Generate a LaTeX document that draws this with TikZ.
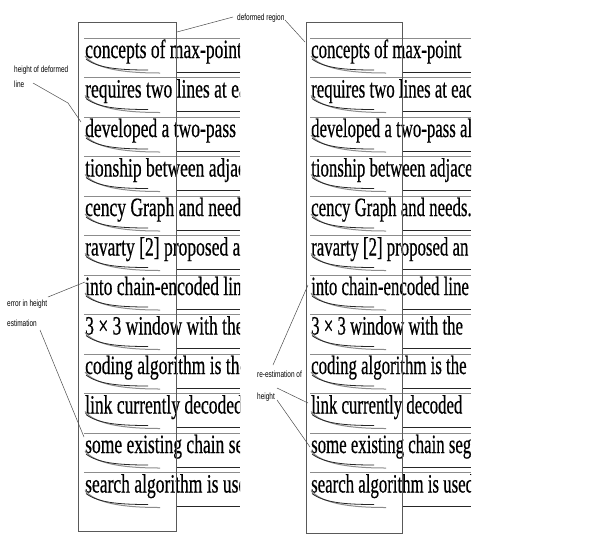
\documentclass[tikz,border=0pt]{standalone}
\usepackage{fontspec}
\setmainfont{Liberation Serif}
\newfontfamily\scanfont{Liberation Serif}[FakeBold=0.6]
\newfontfamily\lblfont{Liberation Sans}
\begin{document}
\begin{tikzpicture}[x=1pt,y=-1pt,
  txt/.style={anchor=base west,inner sep=0pt,font=\scanfont\fontsize{24}{24}\selectfont},
  lbl/.style={anchor=west,inner sep=0pt,align=left,font=\lblfont\fontsize{9}{20}\selectfont},
  region/.style={draw=black!65,line width=0.8pt,inner sep=0pt,anchor=north west},
  guide/.style={black!45,line width=0.8pt},
  dguide/.style={black!85,line width=0.9pt},
  curveA/.style={black!45,line width=1pt},
  curveB/.style={black!85,line width=0.8pt},
  leader/.style={black!70,line width=0.5pt}]
\useasboundingbox (0,0) rectangle (613,539);
\fill[white] (0,0) rectangle (613,539);

% text panels
\foreach \p/\o/\rr/\cr/\sx in {L/0/176/240/0.73, R/226/402/471/0.7}{
  \begin{scope}
    \clip (\o+80,20) rectangle (\cr,530);
    \foreach \t [count=\i] in {concepts of max-point,
        requires two lines at each,
        developed a two-pass alg,
        tionship between adjacen,
        cency Graph and needs.,
        ravarty [2] proposed an,
        into chain-encoded line,
        3 × 3 window with the,
        coding algorithm is the,
        link currently decoded,
        some existing chain seg,
        search algorithm is used}{
      \pgfmathsetmacro\b{58+39.5*(\i-1)}
      \node[txt] (t\p\i) at (\o+85,\b) {\scalebox{\sx}[1.1]{\t}};
      \draw[guide] (\o+84,\b-20) -- (\cr,\b-20);
      \draw[dguide] (\rr,\b+14) -- (\cr,\b+14);
      \draw[curveA] (\o+85,\b-2) .. controls (\o+95,\b+10) and (\o+120,\b+15) .. (\o+160,\b+15);
      \draw[curveB] (\o+86,\b+1) .. controls (\o+98,\b+10) and (\o+118,\b+12) .. (\o+148,\b+12);
    }
  \end{scope}
}

% deformed regions
\node[region,minimum width=98pt,minimum height=509pt] (rL) at (78,22) {};
\node[region,minimum width=96pt,minimum height=511pt] (rR) at (306,22) {};

% labels
\node[lbl,font=\lblfont\fontsize{9}{15}\selectfont] (hd) at (14,77) {\scalebox{0.72}[1]{height of deformed}\\\scalebox{0.72}[1]{line}};
\node[lbl] (dr) at (237,18) {\scalebox{0.72}[1]{deformed region}};
\node[lbl] (eh) at (7,313) {\scalebox{0.72}[1]{error in height}\\\scalebox{0.72}[1]{estimation}};
\node[lbl,font=\lblfont\fontsize{9}{22}\selectfont] (re) at (257,386) {\scalebox{0.72}[1]{re-estimation of}\\\scalebox{0.72}[1]{height}};

% leader end points
\coordinate (hdA) at (33,83);
\coordinate (hdB) at (68,103);
\coordinate (hdC) at (81,122);
\coordinate (drA) at (233,17);
\coordinate (drL) at (177,32);
\coordinate (drB) at (285,20);
\coordinate (drR) at (305,42);
\coordinate (ehA) at (48,297);
\coordinate (ehB) at (85,282);
\coordinate (ehC) at (40,330);
\coordinate (ehD) at (84,437);
\coordinate (reA) at (277,388);
\coordinate (reB) at (308,403);
\coordinate (reC) at (277,400);
\coordinate (reD) at (310,447);
\coordinate (reE) at (273,365);
\coordinate (reF) at (308,285);

% leaders
\draw[leader] (hdA) -- (hdB) -- (hdC);
\draw[leader] (drA) -- (drL);
\draw[leader] (drB) -- (drR);
\draw[leader] (ehA) -- (ehB);
\draw[leader] (ehC) -- (ehD);
\draw[leader] (reA) -- (reB);
\draw[leader] (reC) -- (reD);
\draw[leader] (reE) -- (reF);
\end{tikzpicture}
\end{document}
